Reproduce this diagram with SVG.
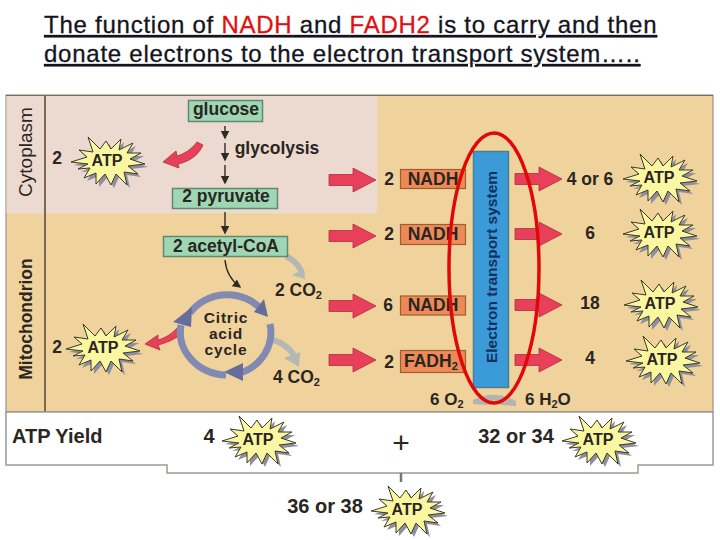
<svg xmlns="http://www.w3.org/2000/svg" width="720" height="540" viewBox="0 0 720 540">
<style>
text{font-family:"Liberation Sans",Arial,sans-serif;fill:#2a2622}
.t{font-size:24px;letter-spacing:.75px;fill:#14141e;stroke:#14141e;stroke-width:.3;text-decoration:underline}
.r{fill:#e01010;stroke:#e01010}
.n{font-weight:bold;font-size:17.500px;text-anchor:middle}
.y{font-weight:bold;font-size:20px;text-anchor:middle}
.l{font-weight:bold;font-size:17.500px;text-anchor:middle}
.c{font-weight:bold;font-size:15.500px;letter-spacing:.8px;text-anchor:middle}
.a{font-weight:bold;font-size:16px;text-anchor:middle}
.s{font-size:11px;font-weight:bold}
.g{fill:#9fd6b4;stroke:#5f8a70;stroke-width:1.5}
.o{fill:#ee8a58;stroke:#9a6030;stroke-width:1.2}
.k{fill:none;stroke:#2e2a26;stroke-width:1.4}
.ra{fill:#e8405a;stroke:#a83040;stroke-width:.8}
.gr{fill:none;stroke:#b4b8b4;stroke-width:6}
.grh{fill:#b4b8b4}
.cy{fill:none;stroke:#8289b2;stroke-width:7}
.cyh{fill:#666c9c}
</style>
<defs>
<path id="sb" d="M-37,1L-21,-4L-29,-11L-15,-9L-20,-24L-8,-12L-2,-20L3,-12L13,-22L11,-11L25,-18L19,-8L33,-8L22,-2L37,3L20,5L30,13L16,11L19,24L8,13L3,24L-3,13L-12,23L-12,12L-24,17L-18,7L-30,8L-20,3Z"/>
<g id="star"><use href="#sb" x="3" y="3" fill="#8d8e9e"/><use href="#sb" fill="#fbf7a0" stroke="#3a3a2a" stroke-width="1"/></g>
<path id="rar" d="M0,-5.500H24V-12L47,0L24,12V5.500H0Z"/>
<marker id="mk" markerWidth="7" markerHeight="7" refX="5" refY="3" orient="auto"><path d="M0,0L6,3L0,6Z" fill="#2e2a26"/></marker>
</defs>
<rect width="720" height="540" fill="#fff"/>
<g id="title">
<text x="44" y="33" class="t">The function of <tspan class="r">NADH</tspan> and <tspan class="r">FADH2</tspan> is to carry and then</text>
<text x="44" y="62" class="t">donate electrons to the electron transport system…..</text>
</g>
<g id="background">
<rect x="6" y="95" width="707" height="317" fill="#f0d29c" stroke="#8a8270"/>
<rect x="6.500" y="95.500" width="371" height="118" fill="#ecd9d0"/>
<path d="M6,95.500H713" stroke="#77705f" fill="none"/>
<path d="M45,95V412" stroke="#7a6a50" stroke-width="2" fill="none"/>
<path d="M6,412H713V465H638V473H167V465H6Z" fill="#fff" stroke="#9a9a96" stroke-width="1.500"/>
<text transform="translate(32,152) rotate(-90)" style="font-size:19px;text-anchor:middle">Cytoplasm</text>
<text transform="translate(32,319) rotate(-90)" style="text-anchor:middle;font-weight:bold;font-size:17.500px">Mitochondrion</text>
</g>
<g id="connectors">
<path class="k" marker-end="url(#mk)" d="M225,126V138"/>
<path class="k" marker-end="url(#mk)" d="M225,143V160"/>
<path class="k" marker-end="url(#mk)" d="M225,165V183"/>
<path class="k" marker-end="url(#mk)" d="M225,212V233"/>
<path class="k" marker-end="url(#mk)" d="M225,260C226,272 232,281 240,287"/>
<path class="gr" d="M286,256C294,260 301,267 302,275"/><path class="grh" d="M292,275L305,279L304,269Z"/>
<path class="gr" d="M270,339C283,342 292,350 295,358"/><path class="grh" d="M284,358L299,367L300,352Z"/>
<path class="ra" d="M203,145C197,159 183,163 178,164L179,168L163,162L176,151L177,156C184,154 192,149 197,142Z"/>
<path class="ra" d="M184,331C176,340 165,343 158,345L160,350L145,344L158,335L158,340C165,338 172,334 178,327Z"/>
<use href="#rar" x="329" y="180" class="ra"/><use href="#rar" x="329" y="236" class="ra"/><use href="#rar" x="329" y="306" class="ra"/><use href="#rar" x="329" y="360" class="ra"/>
<use href="#rar" x="515" y="179" class="ra"/><use href="#rar" x="515" y="234" class="ra"/><use href="#rar" x="515" y="305" class="ra"/><use href="#rar" x="515" y="360" class="ra"/>
<path d="M473,400Q494,389 516,401L516,406L501,405Q494,396 488,405L473,404Z" fill="#b4b4ae"/>
</g>
<g id="cycle">
<path class="cy" d="M190,313A45,42 0 0 1 262,310"/><path class="cyh" d="M254,312L264,299L268,317Z"/>
<path class="cy" d="M270,324A46,43 0 0 1 240,373"/><path class="cyh" d="M243,363L224,372L243,381Z"/>
<path class="cy" d="M226,375A48,43 0 0 1 181,325"/><path class="cyh" d="M173,322L192,307L191,327Z"/>
<text x="226" y="323" class="c">Citric</text>
<text x="226" y="339" class="c">acid</text>
<text x="226" y="355" class="c">cycle</text>
</g>
<g id="glucose"><rect class="g" x="188.500" y="100.500" width="74" height="21"/><text x="226" y="115" class="l">glucose</text></g>
<text x="277" y="154" class="l" id="glycolysis">glycolysis</text>
<g id="pyruvate"><rect class="g" x="172.500" y="188.500" width="105" height="20"/><text x="226" y="202" class="l">2 pyruvate</text></g>
<g id="acetyl"><rect class="g" x="163.500" y="236.500" width="124" height="20"/><text x="226" y="252" class="l">2 acetyl-CoA</text></g>
<g id="labels">
<text x="57" y="164" class="l">2</text><text x="57" y="353" class="l">2</text>
<text x="275" y="296" class="l" style="text-anchor:start">2 CO<tspan class="s" dy="3">2</tspan></text>
<text x="273" y="383" class="l" style="text-anchor:start">4 CO<tspan class="s" dy="3">2</tspan></text>
<text x="389" y="185" class="l">2</text><text x="389" y="240" class="l">2</text><text x="388" y="311" class="l">6</text><text x="389" y="368" class="l">2</text>
<text x="590" y="185" class="l">4 or 6</text><text x="590" y="239" class="l">6</text><text x="590" y="309" class="l">18</text><text x="590" y="364" class="l">4</text>
<text x="430" y="405" style="font-size:17px;font-weight:bold">6 O<tspan class="s" dy="3">2</tspan></text>
<text x="525" y="405" style="font-size:17px;font-weight:bold">6 H<tspan class="s" dy="3">2</tspan><tspan dy="-3">O</tspan></text>
<text x="12" y="443" style="font-size:20px;font-weight:bold">ATP Yield</text>
<text x="209" y="443" class="y">4</text>
<text x="401" y="453" style="font-size:30px;text-anchor:middle">+</text>
<text x="516" y="443" class="y">32 or 34</text>
<text x="325" y="513" class="y">36 or 38</text>
<path d="M401,473V482" stroke="#777" stroke-width="2.500" fill="none"/>
</g>
<g id="nadh1"><rect class="o" x="400.500" y="169.500" width="65" height="19"/><text x="433" y="185" class="n">NADH</text></g>
<g id="nadh2"><rect class="o" x="400.500" y="224.500" width="65" height="20"/><text x="433" y="240" class="n">NADH</text></g>
<g id="nadh3"><rect class="o" x="400.500" y="296" width="65" height="19"/><text x="433" y="311" class="n">NADH</text></g>
<g id="fadh"><rect class="o" x="400.500" y="350.500" width="65" height="22"/><text x="404" y="367" class="n" style="text-anchor:start">FADH<tspan class="s" dy="3">2</tspan></text></g>
<g id="ets"><rect x="473.500" y="151.500" width="35" height="236" fill="#3b9bd8" stroke="#4a7f90" stroke-width="1.500"/>
<text transform="translate(497,267) rotate(-90)" style="font-size:15.500px;font-weight:bold;fill:#103060;text-anchor:middle">Electron transport system</text></g>
<g id="atp1"><use href="#star" x="108" y="161"/><text x="107" y="166" class="a">ATP</text></g>
<g id="atp2"><use href="#star" x="103" y="348"/><text x="103" y="353" class="a">ATP</text></g>
<g id="atp3"><use href="#star" x="259" y="440"/><text x="258" y="445" class="a">ATP</text></g>
<g id="atp4"><use href="#star" x="660" y="178"/><text x="659" y="183" class="a">ATP</text></g>
<g id="atp5"><use href="#star" x="660" y="233"/><text x="659" y="238" class="a">ATP</text></g>
<g id="atp6"><use href="#star" x="661" y="304"/><text x="660" y="309" class="a">ATP</text></g>
<g id="atp7"><use href="#star" x="663" y="360"/><text x="662" y="365" class="a">ATP</text></g>
<g id="atp8"><use href="#star" x="599" y="440"/><text x="598" y="445" class="a">ATP</text></g>
<g id="atp9"><use href="#star" x="408" y="510"/><text x="407" y="515" class="a">ATP</text></g>
<ellipse id="highlight" cx="494" cy="268" rx="45" ry="135" fill="none" stroke="#e00808" stroke-width="3.500"/>
</svg>
